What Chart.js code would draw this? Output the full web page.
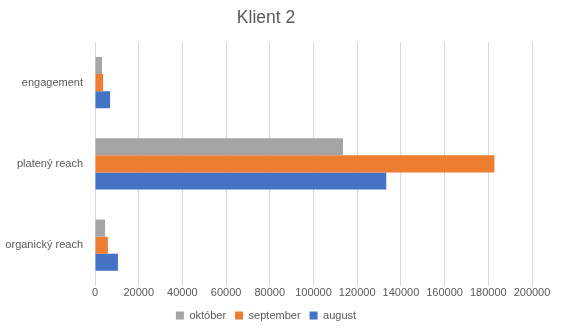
<!DOCTYPE html>
<html lang="sk">
<head>
  <meta charset="UTF-8">
  <title>Klient 2</title>
  <script src="https://cdn.jsdelivr.net/npm/chart.js"></script>
  <style>
    html, body { margin: 0; padding: 0; background: #fff; }
    #wrap { width: 561px; height: 331px; position: relative; }
  </style>
</head>
<body>
<div id="wrap"><canvas id="graf"></canvas></div>
<script>
  // hodnoty odčítané z grafu
  const kategorie = ['engagement', 'platený reach', 'organický reach'];
  const oktober = [3200, 113500, 4600];
  const september = [3700, 182800, 5900];
  const august = [6900, 133300, 10500];

  const sivy = '#595959';
  const pismo = "'Liberation Sans', Arial, sans-serif";

  new Chart(document.getElementById('graf'), {
    type: 'bar',
    data: {
      labels: kategorie,
      datasets: [
        { label: 'október', data: oktober, backgroundColor: '#A5A5A5' },
        { label: 'september', data: september, backgroundColor: '#ED7D31' },
        { label: 'august', data: august, backgroundColor: '#4472C4' }
      ]
    },
    options: {
      indexAxis: 'y',
      responsive: true,
      maintainAspectRatio: false,
      animation: false,
      datasets: { bar: { categoryPercentage: 0.63, barPercentage: 1 } },
      layout: { padding: { left: 0, right: 29, top: 0, bottom: 0 } },
      plugins: {
        title: {
          display: true,
          text: 'Klient 2',
          color: sivy,
          font: { family: pismo, size: 17.5, weight: 'normal' },
          padding: { top: 8, bottom: 13 }
        },
        legend: {
          position: 'bottom',
          labels: {
            color: sivy,
            font: { family: pismo, size: 11 },
            boxWidth: 8,
            boxHeight: 8,
            padding: 9
          }
        },
        tooltip: { enabled: false }
      },
      scales: {
        x: {
          min: 0,
          max: 200000,
          ticks: {
            stepSize: 20000,
            color: sivy,
            font: { family: pismo, size: 11 },
            padding: 1,
            maxRotation: 0,
            autoSkip: false,
            callback: function (v) { return String(v); }
          },
          grid: { color: '#D9D9D9', drawTicks: false },
          border: { display: false }
        },
        y: {
          ticks: { color: sivy, font: { family: pismo, size: 11 }, padding: 4 },
          grid: { display: false },
          border: { display: false },
          afterFit: function (s) { s.width = 95; }
        }
      }
    }
  });
</script>
</body>
</html>
